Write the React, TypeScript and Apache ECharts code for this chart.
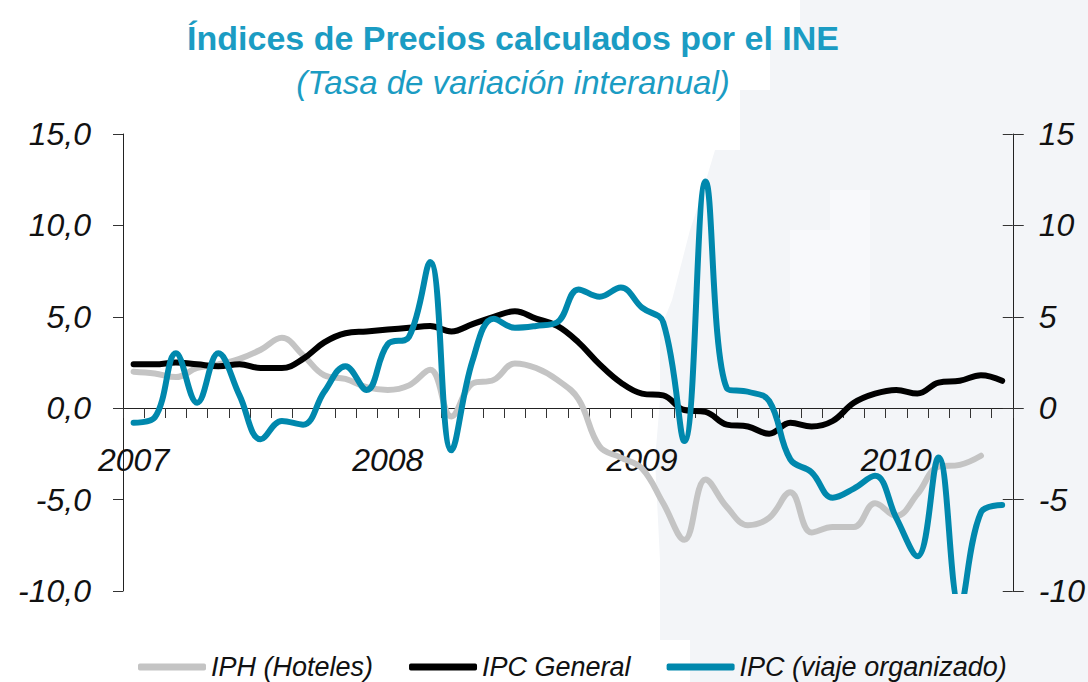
import React, { useEffect, useRef } from "react";
import * as echarts from "echarts";

const months: string[] = [
  "ene-07","feb-07","mar-07","abr-07","may-07","jun-07","jul-07","ago-07","sep-07","oct-07","nov-07","dic-07",
  "ene-08","feb-08","mar-08","abr-08","may-08","jun-08","jul-08","ago-08","sep-08","oct-08","nov-08","dic-08",
  "ene-09","feb-09","mar-09","abr-09","may-09","jun-09","jul-09","ago-09","sep-09","oct-09","nov-09","dic-09",
  "ene-10","feb-10","mar-10","abr-10","may-10","jun-10",
];

const yearLabels: Record<string, string> = {
  "ene-07": "2007",
  "ene-08": "2008",
  "ene-09": "2009",
  "ene-10": "2010",
};

const iphHoteles: (number | null)[] = [
  2.0, 1.9, 1.7, 2.2, 2.4, 2.7, 3.2, 3.85, 2.9, 1.8, 1.6, 1.15,
  1.0, 1.25, 2.1, -0.45, 1.35, 1.55, 2.45, 2.2, 1.55, 0.5, -2.1, -2.7,
  -3.3, -5.2, -7.2, -3.9, -5.4, -6.4, -6.0, -4.6, -6.8, -6.5, -6.5, -5.2,
  -5.9, -4.7, -3.2, -3.1, -2.6, null,
];

const ipcGeneral: number[] = [
  2.4, 2.4, 2.5, 2.4, 2.3, 2.4, 2.2, 2.2, 2.7, 3.6, 4.1, 4.2,
  4.3, 4.4, 4.5, 4.2, 4.6, 5.0, 5.3, 4.9, 4.5, 3.6, 2.4, 1.4,
  0.8, 0.7, -0.1, -0.2, -0.9, -1.0, -1.4, -0.8, -1.0, -0.7, 0.3, 0.8,
  1.0, 0.8, 1.4, 1.5, 1.8, 1.5,
];

const ipcViaje: number[] = [
  -0.8, -0.5, 3.0, 0.3, 3.0, 0.7, -1.7, -0.7, -0.9, 0.9, 2.3, 1.0,
  3.5, 3.9, 8.0, -2.3, 2.6, 4.9, 4.4, 4.5, 4.7, 6.5, 6.1, 6.6,
  5.5, 4.7, -1.8, 12.4, 1.1, 0.9, 0.4, -2.8, -3.5, -4.9, -4.4, -3.7,
  -6.0, -8.1, -2.7, -10.8, -5.7, -5.3,
];

const seriesNames = ["IPH (Hoteles)", "IPC General", "IPC (viaje organizado)"];
const seriesColors = ["#c4c4c4", "#000000", "#0088ad"];

const TITLE = "Índices de Precios calculados por el INE";
const SUBTITLE = "(Tasa de variación interanual)";

const FONT = "'Liberation Sans', Arial, Helvetica, sans-serif";

export default function App() {
  const ref = useRef<HTMLDivElement>(null);

  useEffect(() => {
    if (!ref.current) return;
    const chart = echarts.init(ref.current, undefined, { renderer: "svg" });
    const yCommon = {
      type: "value" as const,
      min: -10,
      max: 15,
      interval: 5,
      splitLine: { show: false },
    };
    const option: any = {
      animation: false,
      backgroundColor: "#ffffff",
      textStyle: { fontFamily: FONT },
      graphic: [
        {
          type: "polygon",
          z: -10,
          silent: true,
          shape: {
            points: [
              [800, 0], [1088, 0], [1088, 682], [690, 682], [690, 640], [660, 640], [660, 560],
              [655, 460], [660, 400], [660, 330], [672, 300], [690, 230], [700, 200], [715, 150],
              [740, 150], [740, 90], [770, 90], [770, 40], [800, 40],
            ],
          },
          style: { fill: "#f3f5f8" },
        },
        {
          type: "polygon",
          z: -9,
          silent: true,
          shape: {
            points: [
              [790, 230], [830, 230], [830, 190], [870, 190], [870, 330], [790, 330],
            ],
          },
          style: { fill: "#f8f9fb" },
        },
      ],
      title: [
        {
          text: TITLE,
          left: 508,
          top: 14,
          textAlign: "center",
          textStyle: {
            fontFamily: FONT,
            fontSize: 34,
            fontWeight: "bold",
            color: "#1b9cc3",
            lineHeight: 38,
          },
        },
        {
          text: SUBTITLE,
          left: 508,
          top: 58,
          textAlign: "center",
          textStyle: {
            fontFamily: FONT,
            fontSize: 33,
            fontStyle: "italic",
            fontWeight: "normal",
            color: "#1b9cc3",
            lineHeight: 38,
          },
        },
      ],
      legend: {
        data: seriesNames,
        left: 133,
        top: 647,
        icon: "roundRect",
        itemWidth: 68,
        itemHeight: 7,
        itemGap: 36,
        textStyle: {
          fontFamily: FONT,
          fontSize: 27,
          fontStyle: "italic",
          color: "#111",
          lineHeight: 30,
        },
      },
      grid: { left: 123, right: 75, top: 134, bottom: 91, containLabel: false },
      xAxis: {
        type: "category",
        data: months,
        boundaryGap: true,
        position: "bottom",
        offset: -183,
        axisLine: { onZero: false, lineStyle: { color: "#222", width: 1 } },
        axisTick: { show: true, interval: 0, length: 10, lineStyle: { color: "#333" } },
        axisLabel: {
          interval: 0,
          margin: 36,
          fontFamily: FONT,
          fontSize: 32,
          fontStyle: "italic",
          color: "#111",
          lineHeight: 32,
          formatter: (v: string) => yearLabels[v] || "",
        },
        splitLine: { show: false },
      },
      yAxis: [
        {
          ...yCommon,
          position: "left",
          axisLine: { show: true, lineStyle: { color: "#222", width: 1 } },
          axisTick: { show: true, length: 10, lineStyle: { color: "#333" } },
          axisLabel: {
            margin: 32,
            fontFamily: FONT,
            fontSize: 32,
            fontStyle: "italic",
            color: "#111",
            formatter: (v: number) => v.toFixed(1).replace(".", ","),
          },
        },
        {
          ...yCommon,
          position: "right",
          axisLine: { show: true, lineStyle: { color: "#222", width: 1 } },
          axisTick: { show: true, length: 11, lineStyle: { color: "#333" } },
          axisLabel: {
            margin: 26,
            fontFamily: FONT,
            fontSize: 32,
            fontStyle: "italic",
            color: "#111",
            formatter: (v: number) => String(v),
          },
        },
        {
          ...yCommon,
          position: "right",
          axisLine: { show: false },
          axisTick: { show: true, inside: true, length: 10, lineStyle: { color: "#333" } },
          axisLabel: { show: false },
        },
      ],
      series: [
        {
          name: seriesNames[0],
          type: "line",
          data: iphHoteles,
          smooth: 0.4,
          showSymbol: false,
          symbol: "none",
          lineStyle: { color: seriesColors[0], width: 6, cap: "round", join: "round" },
          itemStyle: { color: seriesColors[0] },
          z: 2,
        },
        {
          name: seriesNames[1],
          type: "line",
          data: ipcGeneral,
          smooth: 0.4,
          showSymbol: false,
          symbol: "none",
          lineStyle: { color: seriesColors[1], width: 6, cap: "round", join: "round" },
          itemStyle: { color: seriesColors[1] },
          z: 3,
        },
        {
          name: seriesNames[2],
          type: "line",
          data: ipcViaje,
          smooth: 0.4,
          showSymbol: false,
          symbol: "none",
          clip: true,
          lineStyle: { color: seriesColors[2], width: 6, cap: "round", join: "round" },
          itemStyle: { color: seriesColors[2] },
          z: 4,
        },
      ],
    };
    chart.setOption(option);
    return () => chart.dispose();
  }, []);

  return (
    <div
      ref={ref}
      style={{ position: "absolute", left: 0, top: 0, width: 1088, height: 682 }}
    />
  );
}
